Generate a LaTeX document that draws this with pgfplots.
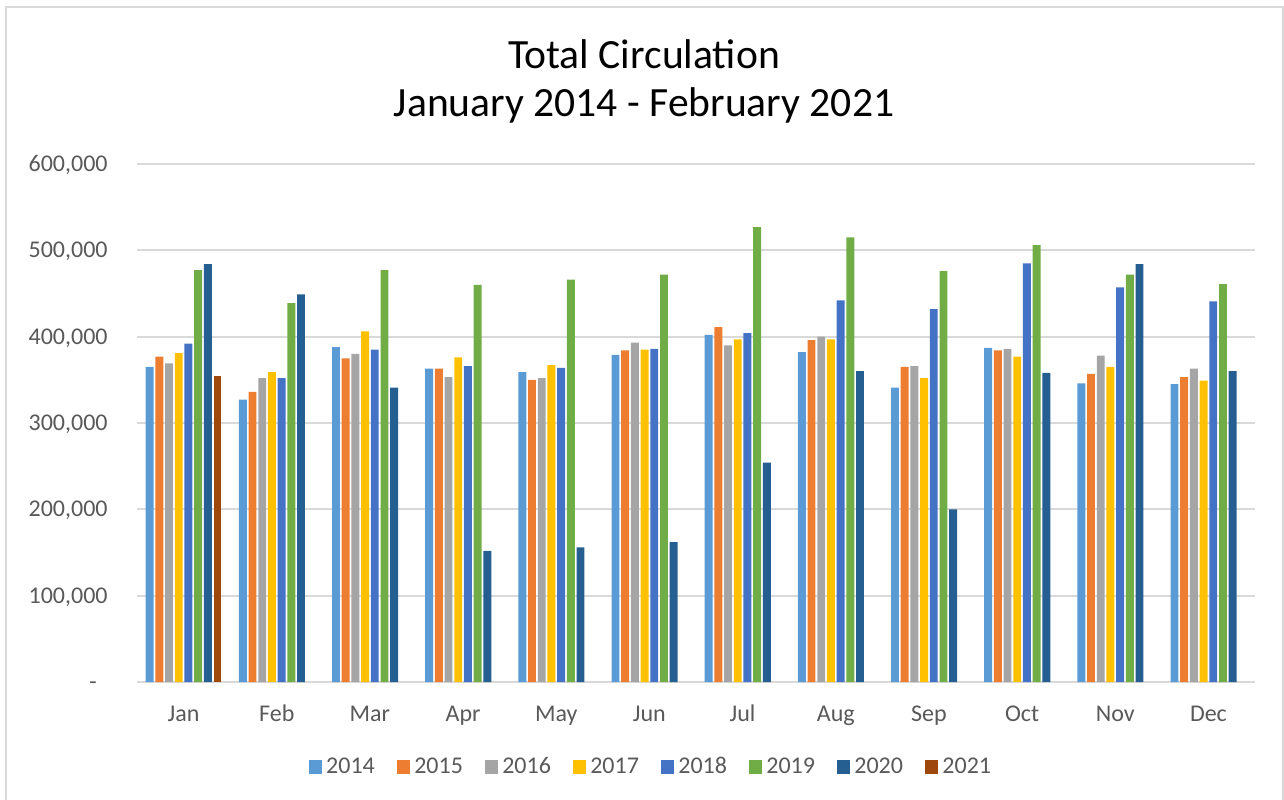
\documentclass[border=0pt]{standalone}
\usepackage{fontspec}
\setmainfont{Carlito}
\usepackage{pgfplots}
\pgfplotsset{compat=1.18}
\usepackage{pgfplotstable}
\definecolor{c14}{HTML}{5B9BD5}
\definecolor{c15}{HTML}{ED7D31}
\definecolor{c16}{HTML}{A5A5A5}
\definecolor{c17}{HTML}{FFC000}
\definecolor{c18}{HTML}{4472C4}
\definecolor{c19}{HTML}{70AD47}
\definecolor{c20}{HTML}{255E91}
\definecolor{c21}{HTML}{9E480E}
\definecolor{tickgray}{HTML}{595959}
\definecolor{gridgray}{HTML}{D9D9D9}

\pgfplotstableread{
x  y14    y15    y16    y17    y18    y19    y20
0  365000 377000 369000 381000 392000 477000 484000
1  327000 336000 352000 359000 352000 439000 449000
2  388000 375000 380000 406000 385000 477000 341000
3  363000 363000 353000 376000 366000 460000 152000
4  359000 350000 352000 367000 364000 466000 156000
5  379000 384000 393000 385000 386000 472000 162000
6  402000 411000 390000 397000 404000 527000 254000
7  382000 396000 400000 397000 442000 515000 360000
8  341000 365000 366000 352000 432000 476000 200000
9  387000 384000 386000 377000 485000 506000 358000
10 346000 357000 378000 365000 457000 472000 484000
11 345000 353000 363000 349000 441000 461000 360000
}\circdata

\begin{document}
\begin{tikzpicture}
\useasboundingbox (-68.5bp,-59bp) rectangle (573.5bp,341bp);
\draw[gridgray, line width=1bp] (-65.25bp,-70bp) -- (-65.25bp,337.25bp) -- (573bp,337.25bp) -- (573bp,-70bp);
\begin{axis}[
  at={(0,0)}, anchor=south west,
  scale only axis, width=559bp, height=259bp,
  xmin=-0.5, xmax=11.5, ymin=0, ymax=600000,
  ybar=0.9bp, bar width=3.95bp,
  axis x line*=bottom, axis y line*=left,
  x axis line style={gridgray, line width=1bp},
  y axis line style={draw=none},
  major tick length=0pt,
  xtick={0,...,11},
  xticklabels={Jan,Feb,Mar,Apr,May,Jun,Jul,Aug,Sep,Oct,Nov,Dec},
  xticklabel style={anchor=base, inner sep=0pt, yshift=-19.8bp, font=\fontsize{12bp}{14bp}\selectfont, text=tickgray},
  ytick={0,100000,200000,300000,400000,500000,600000},
  yticklabels={{-\rule{5.5bp}{0pt}},{100,000},{200,000},{300,000},{400,000},{500,000},{600,000}},
  scaled y ticks=false,
  ymajorgrids=true, major grid style={gridgray, line width=1bp},
  yticklabel style={anchor=base east, inner sep=0pt, xshift=-14.5bp, yshift=-3.8bp, font=\fontsize{12bp}{14bp}\selectfont, text=tickgray},
  clip=false,
  legend columns=8,
  legend style={at={(0.4606,-0.1641)}, anchor=center, draw=none, fill=none,
     font=\fontsize{12bp}{14bp}\selectfont, text=tickgray,
     /tikz/every even column/.append style={column sep=9bp}},
  legend image code/.code={\fill[#1] (0bp,-3.35bp) rectangle (6.7bp,3.35bp);},
  every axis plot/.append style={draw=none},
]
\addplot[fill=c14] table[x=x, y=y14] {\circdata};
\addplot[fill=c15] table[x=x, y=y15] {\circdata};
\addplot[fill=c16] table[x=x, y=y16] {\circdata};
\addplot[fill=c17] table[x=x, y=y17] {\circdata};
\addplot[fill=c18] table[x=x, y=y18] {\circdata};
\addplot[fill=c19] table[x=x, y=y19] {\circdata};
\addplot[fill=c20] table[x=x, y=y20] {\circdata};
\addplot[fill=c21] coordinates {(0,354000)};
\legend{2014,2015,2016,2017,2018,2019,2020,2021}
\end{axis}
\node[anchor=base, font=\fontsize{20.8bp}{25bp}\selectfont] at (253.5bp,306.5bp) {Total Circulation};
\node[anchor=base, font=\fontsize{20.8bp}{25bp}\selectfont] at (253.5bp,282.5bp) {January 2014 - February 2021};
\end{tikzpicture}
\end{document}
